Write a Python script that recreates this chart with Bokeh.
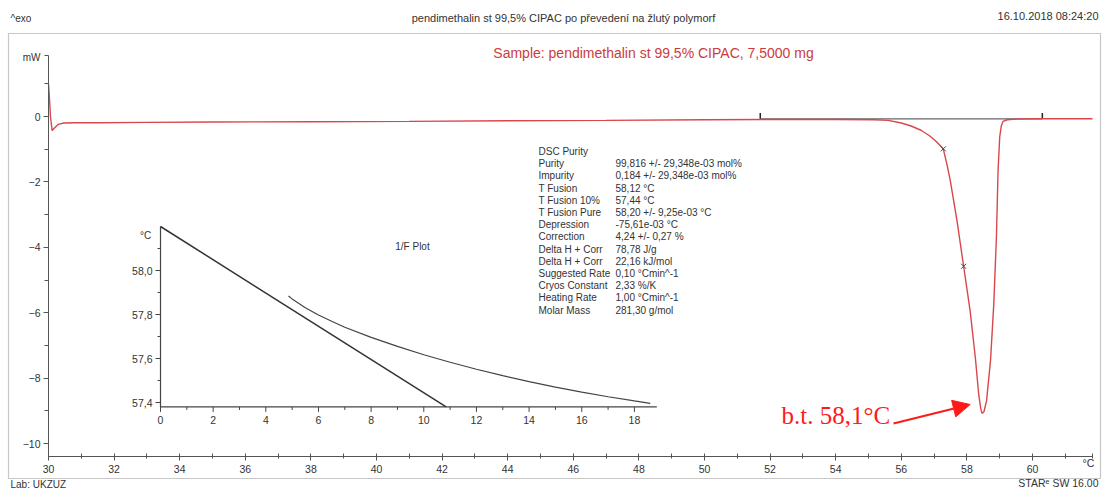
import numpy as np
from bokeh.plotting import figure
from bokeh.models import Range1d, FixedTicker, Label, BoxAnnotation, Arrow, NormalHead
from bokeh.core.properties import value
from bokeh.embed import file_html
from bokeh.resources import INLINE

# ---- DSC trace: sample temperature (°C) and heat flow (mW) ----
temperature = [30.00, 30.03, 30.06, 30.11, 30.18, 30.30, 30.47, 30.8, 31.5, 33.0,
               35.0, 38.0, 41.0, 44.0, 47.0, 50.0, 52.0, 54.0, 55.16, 55.6,
               56.0, 56.3, 56.6, 56.85, 57.05, 57.2, 57.28, 57.40, 57.50, 57.70,
               57.90, 58.10, 58.26, 58.36, 58.42, 58.46, 58.52, 58.60, 58.72, 58.82,
               58.90, 58.95, 59.00, 59.05, 59.10, 59.23, 59.5, 60.0, 61.0, 61.83]
heat_flow = [1.00, 0.55, 0.00, -0.43, -0.35, -0.24, -0.20, -0.19, -0.19, -0.18,
             -0.17, -0.16, -0.15, -0.13, -0.12, -0.10, -0.09, -0.09, -0.10, -0.12,
             -0.20, -0.29, -0.42, -0.58, -0.75, -0.90, -0.99, -1.50, -2.00, -3.20,
             -4.58, -5.95, -7.40, -8.50, -8.92, -9.08, -9.03, -8.69, -7.46, -5.73,
             -3.69, -1.65, -0.63, -0.28, -0.15, -0.10, -0.08, -0.07, -0.07, -0.07]

# partial-area markers on the melting peak
mark_temp = [57.28, 57.90]
mark_flow = [-0.99, -4.58]

# integration limits and the baseline between them
limit_temp = [51.7, 60.3]
limit_flow = [-0.07, -0.07]

# labelled melting point
bt_temp = 58.1

# axis ticks of the main plot
x_major = list(range(30, 61, 2))
x_minor = list(range(31, 62, 2))
y_major = [-10, -8, -6, -4, -2, 0]
y_minor = [-9, -7, -5, -3, -1, 1]

# ---- 1/F plot: temperature (°C) against 1/F ----
inv_f_measured = [4.86, 5.0, 5.5, 6.0, 6.5, 7.0, 8.0, 9.0, 10.0, 11.0, 12.0, 13.0,
                  14.0, 15.0, 16.0, 17.0, 18.0, 18.6]
t_measured = [57.884, 57.871, 57.831, 57.798, 57.769, 57.742, 57.696, 57.655, 57.617,
              57.583, 57.551, 57.522, 57.495, 57.470, 57.447, 57.426, 57.407, 57.396]
inv_f_fit = [0.0, 10.85]
t_fit = [58.20, 57.38]

inset_x_ticks = [0, 2, 4, 6, 8, 10, 12, 14, 16, 18]
inset_x_minor = [1, 3, 5, 7, 9, 11, 13, 15, 17]
inset_y_ticks = [57.4, 57.6, 57.8, 58.0]
inset_y_minor = [57.5, 57.7, 57.9, 58.1]
inset_y_labels = ["57,4", "57,6", "57,8", "58,0"]

# ---- DSC purity results ----
table_keys = ["DSC Purity", "Purity", "Impurity", "T Fusion", "T Fusion 10%", "T Fusion Pure",
              "Depression", "Correction", "Delta H + Corr", "Delta H + Corr", "Suggested Rate",
              "Cryos Constant", "Heating Rate", "Molar Mass"]
table_vals = ["", "99,816 +/- 29,348e-03 mol%", "0,184 +/- 29,348e-03 mol%", "58,12 °C",
              "57,44 °C", "58,20 +/- 9,25e-03 °C", "-75,61e-03 °C", "4,24 +/- 0,27 %",
              "78,78 J/g", "22,16 kJ/mol", "0,10 °Cmin^-1", "2,33 %/K", "1,00 °Cmin^-1",
              "281,30 g/mol"]

FONT = "Liberation Sans"
INK = "#333333"
AXIS = "#555555"
CURVE = "#d9474c"

# page geometry (pixels) of the plotting area
W, H = 1107, 490
X0_PX, XS = 48, 32.8      # x = 30 °C sits at X0_PX, XS pixels per °C
Y0_PX, YS = 116, 32.7     # y = 0 mW sits at Y0_PX, YS pixels per mW
PLOT_TOP_PX, PLOT_BOTTOM_PX, PLOT_RIGHT_PX = 55, 456, 1092


def xd(px):
    return 30 + (px - X0_PX) / XS


def yd(py):
    return (Y0_PX - py) / YS


p = figure(width=W, height=H,
           x_range=Range1d(xd(0), xd(W)), y_range=Range1d(yd(H), yd(0)),
           output_backend="svg", toolbar_location=None, min_border=0)
p.outline_line_color = None
p.grid.visible = False
p.background_fill_color = "white"
p.border_fill_color = "white"

y_top, y_bottom, x_right = yd(PLOT_TOP_PX), yd(PLOT_BOTTOM_PX), xd(PLOT_RIGHT_PX)

xaxis, yaxis = p.xaxis[0], p.yaxis[0]
xaxis.fixed_location = y_bottom
xaxis.bounds = (30, x_right)
yaxis.fixed_location = 30
yaxis.bounds = (y_bottom, y_top)
# end-of-axis marks are drawn as extra minor ticks
xaxis.ticker = FixedTicker(ticks=x_major, minor_ticks=x_minor + [x_right])
yaxis.ticker = FixedTicker(ticks=y_major, minor_ticks=y_minor + [y_top])
for ax in (xaxis, yaxis):
    ax.axis_line_color = AXIS
    ax.major_tick_line_color = AXIS
    ax.minor_tick_line_color = AXIS
    ax.major_label_text_font = FONT
    ax.major_label_text_font_size = "10.5px"
    ax.major_label_text_color = INK
xaxis.major_tick_in = 3
xaxis.major_tick_out = 4
xaxis.minor_tick_in = 3
xaxis.minor_tick_out = 2
xaxis.major_label_standoff = 4
yaxis.major_tick_in = 0
yaxis.major_tick_out = 5
yaxis.minor_tick_in = 0
yaxis.minor_tick_out = 4
yaxis.major_label_standoff = 3

# integration baseline and its limit marks
p.line(limit_temp, limit_flow, line_color="#666666", line_width=1.2)
p.segment(x0=limit_temp, y0=limit_flow, x1=limit_temp, y1=[f + 0.18 for f in limit_flow],
          line_color="#222222", line_width=1.5)

# measured curve
p.line(temperature, heat_flow, line_color=CURVE, line_width=1.4)
p.scatter(mark_temp, mark_flow, marker="x", size=7, line_color="#444444", line_width=1)

# melting point annotation
p.add_layout(Arrow(x_start=xd(893), y_start=yd(423), x_end=bt_temp, y_end=yd(404),
                   line_color="#ff1a1a", line_width=2,
                   end=NormalHead(size=17, fill_color="#ff1a1a", line_color="#ff1a1a")))
p.add_layout(Label(x=xd(781), y=yd(415), text="b.t. " + f"{bt_temp:.1f}".replace(".", ",") + "°C",
                   text_font="Liberation Serif", text_font_size="25px", text_color="#ff1a1a",
                   text_baseline="middle", text_align="left"))

# ---- 1/F inset ----
ix = Range1d(0, 18.85)
iy = Range1d(57.38, 58.20)
inset = p.subplot(x_source=ix, y_source=iy,
                  x_target=Range1d(xd(160), xd(656.3)), y_target=Range1d(yd(406.4), yd(226)))
inset.segment(x0=[ix.start, ix.start], y0=[iy.start, iy.start],
              x1=[ix.start, ix.end], y1=[iy.end, iy.start], line_color="#444444", line_width=1.2)
inset.ray(x=ix.start, y=inset_y_ticks, length=5, angle=np.pi, length_units="screen",
          line_color="#444444")
inset.ray(x=ix.start, y=inset_y_minor, length=3, angle=np.pi, length_units="screen",
          line_color="#444444")
inset.ray(x=inset_x_ticks, y=iy.start, length=5, angle=-np.pi / 2, length_units="screen",
          line_color="#444444")
inset.ray(x=inset_x_minor, y=iy.start, length=3, angle=-np.pi / 2, length_units="screen",
          line_color="#444444")
inset.text(x=ix.start, y=inset_y_ticks, text=inset_y_labels, x_offset=-8,
           text_align="right", text_baseline="middle",
           text_font=value(FONT), text_font_size="10.5px", text_color=INK)
inset.text(x=inset_x_ticks, y=iy.start, text=[str(t) for t in inset_x_ticks], y_offset=9,
           text_align="center", text_baseline="top",
           text_font=value(FONT), text_font_size="10.5px", text_color=INK)
inset.text(x=[-0.57], y=[58.16], text=["°C"], text_align="center", text_baseline="middle",
           text_font=value(FONT), text_font_size="10px", text_color=INK)
inset.text(x=[9.57], y=[58.11], text=["1/F Plot"], text_align="center", text_baseline="middle",
           text_font=value(FONT), text_font_size="10px", text_color=INK)
inset.line(inv_f_fit, t_fit, line_color="#333333", line_width=1.5)
inset.line(inv_f_measured, t_measured, line_color="#444444", line_width=1.2)

# ---- page furniture in canvas pixels ----
p.add_layout(BoxAnnotation(left=8, right=1100, top=33, bottom=478,
                           left_units="canvas", right_units="canvas",
                           top_units="canvas", bottom_units="canvas",
                           fill_alpha=0, line_color="#444444", line_width=1.2))


def canvas_label(x, y, text, size="11px", align="left", color=INK, font=FONT):
    p.add_layout(Label(x=x, y=y, x_units="canvas", y_units="canvas", text=text,
                       text_font=font, text_font_size=size, text_color=color,
                       text_align=align, text_baseline="middle"))


canvas_label(10, 18, "^exo", size="10px")
canvas_label(563, 17, "pendimethalin st 99,5% CIPAC po převedení na žlutý polymorf", align="center")
canvas_label(1098, 15, "16.10.2018 08:24:20", align="right")
canvas_label(653, 52, "Sample: pendimethalin st 99,5% CIPAC, 7,5000 mg", size="14px",
             align="center", color="#cc3b3b")
canvas_label(40, 57, "mW", size="10px", align="right")
canvas_label(1088, 462, "°C", size="10.5px", align="center")
canvas_label(10, 484, "Lab: UKZUZ", size="10px")
canvas_label(1098, 482, "STARᵉ SW 16.00", size="10.5px", align="right")

for i, (k, v) in enumerate(zip(table_keys, table_vals)):
    canvas_label(538, 151 + i * 12.2, k, size="10px")
    if v:
        canvas_label(615, 151 + i * 12.2, v, size="10px")

open("out.html", "w").write(file_html(p, INLINE))
